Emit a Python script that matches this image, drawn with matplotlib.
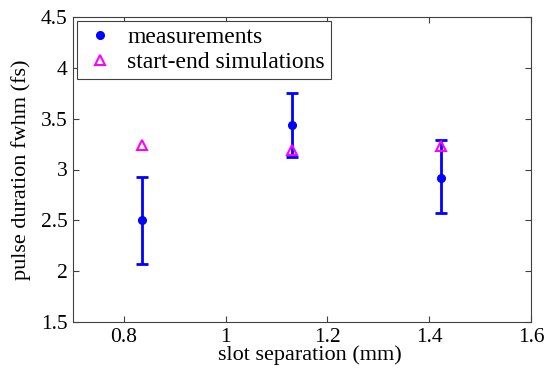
import matplotlib.pyplot as plt
from matplotlib.lines import Line2D

# slot separation (mm)
slot_sep = [0.836, 1.130, 1.424]

# measured pulse duration (fs) with asymmetric error bars
meas = [2.50, 3.44, 2.92]
err_low = [0.43, 0.32, 0.35]
err_high = [0.43, 0.31, 0.37]

# start-end simulations (fs)
sim = [3.24, 3.19, 3.23]

plt.rcParams['font.family'] = ['Liberation Serif', 'DejaVu Serif']

fig = plt.figure(figsize=(5.47, 3.76), dpi=100)
ax = fig.add_axes([73 / 547, 54 / 376, 458 / 547, 305 / 376])

ax.errorbar(slot_sep, meas, yerr=[err_low, err_high], fmt='o', color='#0000ff',
            ecolor='#0000ff', markersize=5.5, elinewidth=2, capsize=4, capthick=2,
            zorder=3)
ax.plot(slot_sep, sim, linestyle='none', marker='^', markersize=7,
        markerfacecolor='none', markeredgecolor='#ff00ff', markeredgewidth=1.5,
        zorder=4)

ax.set_xlim(0.7, 1.6)
ax.set_ylim(1.5, 4.5)
ax.set_xticks([0.8, 1.0, 1.2, 1.4, 1.6])
ax.set_xticklabels(['0.8', '1', '1.2', '1.4', '1.6'])
ax.set_yticks([1.5, 2, 2.5, 3, 3.5, 4, 4.5])
ax.set_yticklabels(['1.5', '2', '2.5', '3', '3.5', '4', '4.5'])
ax.tick_params(direction='in', top=True, right=True, labelsize=15.5, length=4,
               color='#404040', pad=4)
for s in ax.spines.values():
    s.set_color('#404040')
    s.set_linewidth(0.8)

ax.set_xlabel('slot separation (mm)', fontsize=16, labelpad=0)
ax.xaxis.set_label_coords(0.517, -0.075, transform=ax.transAxes)
ax.xaxis.label.set_va('top')
ax.set_ylabel('pulse duration fwhm (fs)', fontsize=16, labelpad=7)

handles = [
    Line2D([], [], linestyle='none', marker='o', markersize=5.5, color='#0000ff'),
    Line2D([], [], linestyle='none', marker='^', markersize=7, markerfacecolor='none',
           markeredgecolor='#ff00ff', markeredgewidth=1.5),
]
leg = ax.legend(handles, ['measurements', 'start-end simulations'], loc='upper left',
                fontsize=17, fancybox=False, framealpha=1, edgecolor='#404040',
                borderaxespad=0.15, handletextpad=0.45, labelspacing=0.15,
                borderpad=0.25, handlelength=1.45)
leg.get_frame().set_linewidth(0.8)

fig.savefig('out.png', dpi=100)
plt.close()
